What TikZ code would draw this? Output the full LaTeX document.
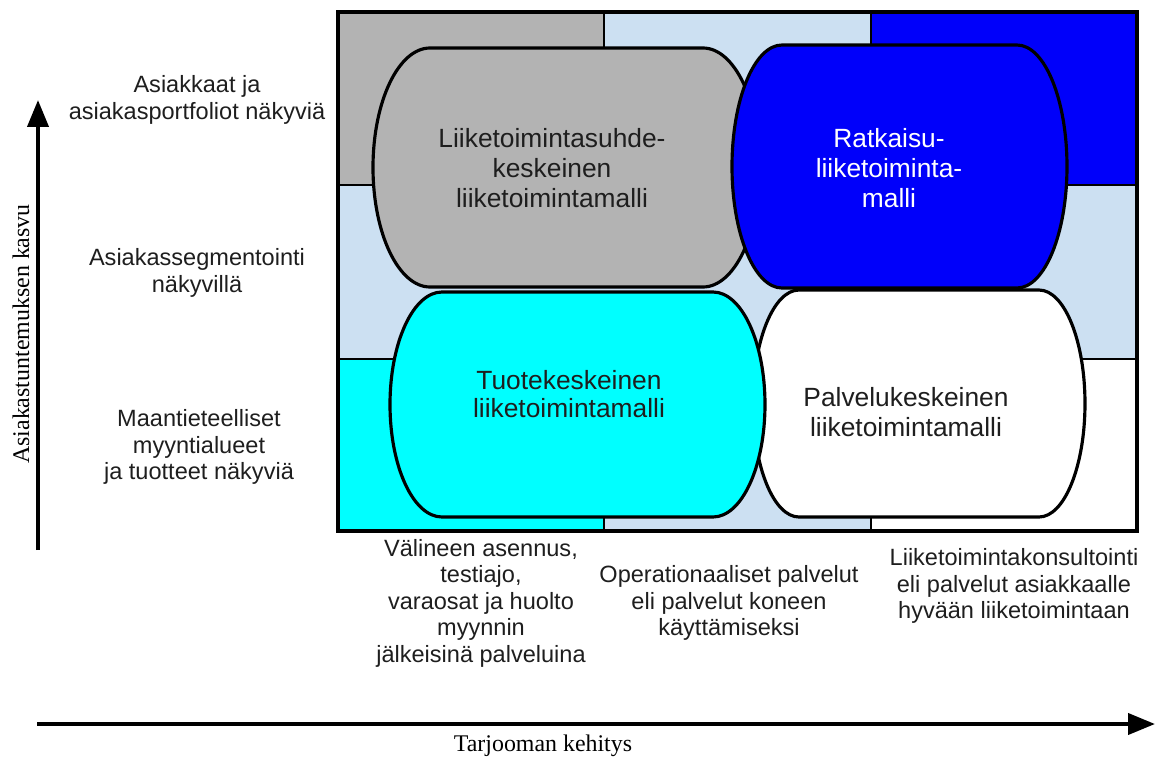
\documentclass[tikz,border=0pt]{standalone}
\usepackage{fontspec}
\setmainfont{Liberation Serif}
\newfontfamily\arialf{Liberation Sans}
\usetikzlibrary{arrows.meta}
\definecolor{cellgray}{HTML}{B3B3B3}
\definecolor{cellltblue}{HTML}{CCE0F2}
\definecolor{cellblue}{HTML}{0000FA}
\definecolor{cellcyan}{HTML}{00FFFF}
\definecolor{txtdark}{HTML}{1E1E1E}
\newcommand{\drawbarrel}[6]{%
  \pgfmathsetmacro\bxa{#2+#6}%
  \pgfmathsetmacro\bxb{#4-#6}%
  \pgfmathsetmacro\byc{(#3+#5)/2}%
  \pgfmathsetmacro\bry{(#5-#3)/2}%
  \pgfmathsetmacro\bdx{0.5523*#6}%
  \pgfmathsetmacro\bdy{0.5523*\bry}%
  \draw[shapeline, fill=#1] (\bxa,#3) -- (\bxb,#3)
    .. controls ({\bxb+\bdx},#3) and (#4,{\byc-\bdy}) .. (#4,\byc)
    .. controls (#4,{\byc+\bdy}) and ({\bxb+\bdx},#5) .. (\bxb,#5)
    -- (\bxa,#5)
    .. controls ({\bxa-\bdx},#5) and (#2,{\byc+\bdy}) .. (#2,\byc)
    .. controls (#2,{\byc-\bdy}) and ({\bxa-\bdx},#3) .. cycle;
}
\tikzset{
  cell/.style={draw=black, line width=1.6pt},
  frameline/.style={draw=black, line width=1.9pt},
  shapeline/.style={draw=black, line width=1.8pt},
  modeltext/.style={font=\arialf\fontsize{15}{17}\selectfont, text=txtdark, align=center, inner sep=0pt},
  sidelabel/.style={font=\arialf\fontsize{13.4}{15.1}\selectfont, text=txtdark, align=center, inner sep=0pt},
  axislabel/.style={font=\fontsize{13.6}{15}\selectfont, text=black, inner sep=0pt},
  axisarrow/.style={line width=2.3pt, -{Triangle[length=0.54cm,width=0.42cm]}}
}
\begin{document}
\begin{tikzpicture}[x=0.02cm, y=-0.02cm]
\useasboundingbox (0,0) rectangle (1161,758);
% grid cells
\fill[cellltblue] (338,185) rectangle (1137,359);
\draw[cell, fill=cellgray] (338,12) rectangle (604,185);
\draw[cell, fill=cellltblue] (604,12) rectangle (871,185);
\draw[cell, fill=cellblue] (871,12) rectangle (1137,185);
\draw[cell] (338,185) rectangle (1137,359);
\draw[cell, fill=cellcyan] (338,359) rectangle (604,531);
\draw[cell, fill=cellltblue] (604,359) rectangle (871,531);
\draw[cell, fill=white] (871,359) rectangle (1137,531);
\draw[frameline] (338,12) rectangle (1137,531);
% model shapes
\drawbarrel{cellgray}{373}{48}{760}{287}{57}
\drawbarrel{cellblue}{732}{45}{1067}{288}{50}
\drawbarrel{white}{753}{290}{1085}{517}{46}
\drawbarrel{cellcyan}{390}{292}{765}{517}{52}
% model texts
\node[modeltext] (m1) at (552,168) {Liiketoimintasuhde-\\keskeinen\\liiketoimintamalli};
\node[modeltext, text=white] (m2) at (889,168) {Ratkaisu-\\liiketoiminta-\\malli};
\node[modeltext, font=\arialf\fontsize{15}{16}\selectfont] (m3) at (569,394) {Tuotekeskeinen\\liiketoimintamalli};
\node[modeltext] (m4) at (906,412) {Palvelukeskeinen\\liiketoimintamalli};
% side labels
\node[sidelabel] (l1) at (197,100) {Asiakkaat ja\\asiakasportfoliot näkyviä};
\node[sidelabel] (l2) at (197,273) {Asiakassegmentointi\\näkyvillä};
\node[sidelabel] (l3) at (199,447) {Maantieteelliset\\myyntialueet\\ja tuotteet näkyviä};
% bottom labels
\node[sidelabel] (b1) at (481,603) {Välineen asennus,\\testiajo,\\varaosat ja huolto\\myynnin\\jälkeisinä palveluina};
\node[sidelabel] (b2) at (729,603) {Operationaaliset palvelut\\eli palvelut koneen\\käyttämiseksi};
\node[sidelabel] (b3) at (1014,586) {Liiketoimintakonsultointi\\eli palvelut asiakkaalle\\hyvään liiketoimintaan};
% axes
\coordinate (ya) at (38,550);
\coordinate (yb) at (38,100);
\coordinate (xa) at (37,724);
\coordinate (xb) at (1155,724);
\draw[axisarrow] (ya) -- (yb);
\draw[axisarrow] (xa) -- (xb);
\node[axislabel, rotate=90] (yl) at (21,334) {Asiakastuntemuksen kasvu};
\node[axislabel] (xl) at (543,746) {Tarjooman kehitys};
\end{tikzpicture}
\end{document}
